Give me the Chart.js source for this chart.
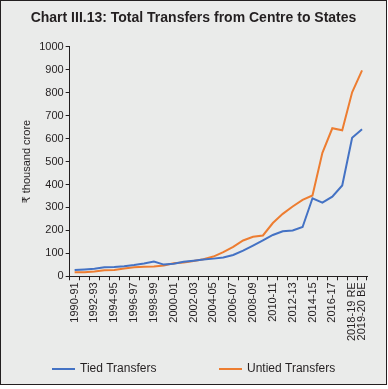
<!DOCTYPE html>
<html>
<head>
<meta charset="utf-8">
<script src="https://cdn.jsdelivr.net/npm/chart.js@4"></script>
<style>
  html, body { margin: 0; padding: 0; background: #ffffff; }
  #frame { position: absolute; left: 0; top: 0; width: 385px; height: 383px; border: 1px solid #231f20; background: #eaebea; }
  #c { position: absolute; left: 0; top: 0; }
</style>
</head>
<body>
<div id="frame"><canvas id="c" width="385" height="383"></canvas></div>
<script>
const categories = ['1990-91','1991-92','1992-93','1993-94','1994-95','1995-96','1996-97','1997-98','1998-99','1999-00',
  '2000-01','2001-02','2002-03','2003-04','2004-05','2005-06','2006-07','2007-08','2008-09','2009-10',
  '2010-11','2011-12','2012-13','2013-14','2014-15','2015-16','2016-17','2017-18','2018-19 RE','2019-20 BE'];
const tiedTransfers = [27, 30, 33, 39, 40, 44, 49, 56, 64, 51, 55, 63, 68, 73, 77, 82, 93, 112, 134, 157, 180, 196, 200, 215, 340, 321, 347, 396, 604, 641];
const untiedTransfers = [18, 18, 21, 26, 27, 34, 39, 42, 43, 47, 57, 60, 67, 74, 86, 105, 128, 156, 172, 178, 232, 272, 304, 333, 352, 538, 645, 636, 802, 897];
const shownLabels = ['1990-91','1992-93','1994-95','1996-97','1998-99','2000-01','2002-03','2004-05','2006-07','2008-09',
  '2010-11','2012-13','2014-15','2016-17','2018-19 RE','2019-20 BE'];
const yTicks = [0, 100, 200, 300, 400, 500, 600, 700, 800, 900, 1000];

const FONT = "'Liberation Sans', Arial, 'DejaVu Sans', sans-serif";
const INK = '#231f20';

// Legend drawn with wide Excel-like spacing (built-in legend cannot space items this far apart)
const wideLegend = {
  id: 'wideLegend',
  afterDraw(chart) {
    const ctx = chart.ctx;
    const starts = [51, 218];
    const y = 368;
    ctx.save();
    ctx.font = '12px ' + FONT;
    ctx.textBaseline = 'middle';
    ctx.textAlign = 'left';
    chart.data.datasets.forEach((ds, i) => {
      const x = starts[i];
      ctx.strokeStyle = ds.borderColor;
      ctx.lineWidth = 2;
      ctx.beginPath();
      ctx.moveTo(x, y);
      ctx.lineTo(x + 23, y);
      ctx.stroke();
      ctx.fillStyle = INK;
      ctx.fillText(ds.label, x + 28, y);
    });
    ctx.restore();
  }
};

new Chart(document.getElementById('c'), {
  type: 'line',
  data: {
    labels: categories,
    datasets: [
      { label: 'Tied Transfers', data: tiedTransfers, borderColor: '#4472c4', backgroundColor: '#4472c4', borderWidth: 2, pointRadius: 0, tension: 0 },
      { label: 'Untied Transfers', data: untiedTransfers, borderColor: '#ed7d31', backgroundColor: '#ed7d31', borderWidth: 2, pointRadius: 0, tension: 0 }
    ]
  },
  plugins: [wideLegend],
  options: {
    responsive: false,
    animation: false,
    layout: { padding: { left: 19, right: 19, top: 0, bottom: 41 } },
    plugins: {
      title: { display: true, text: 'Chart III.13: Total Transfers from Centre to States', color: INK,
        font: { family: FONT, size: 14, weight: 'bold' }, padding: { top: 9, bottom: 20 } },
      legend: { display: false },
      tooltip: { enabled: false }
    },
    scales: {
      x: {
        type: 'category',
        offset: true,
        grid: { display: true, drawOnChartArea: false, drawTicks: true, tickLength: 4, offset: true, color: INK },
        border: { display: true, color: INK, width: 1 },
        ticks: {
          autoSkip: false, maxRotation: 90, minRotation: 90, color: INK, padding: 2,
          font: { family: FONT, size: 11 },
          callback: function (v, i) { const l = categories[i]; return shownLabels.includes(l) ? l : ''; }
        }
      },
      y: {
        min: 0, max: 1000,
        afterBuildTicks: function (axis) { axis.ticks = yTicks.map(v => ({ value: v })); },
        grid: { display: true, drawOnChartArea: false, drawTicks: true, tickLength: 4, color: INK },
        border: { display: true, color: INK, width: 1 },
        ticks: { color: INK, padding: 2, font: { family: FONT, size: 11 }, callback: function (v) { return String(v); } },
        title: { display: true, text: '₹ thousand crore', color: INK, font: { family: FONT, size: 11 }, padding: { top: 0, bottom: 4 } }
      }
    }
  }
});
</script>
</body>
</html>
